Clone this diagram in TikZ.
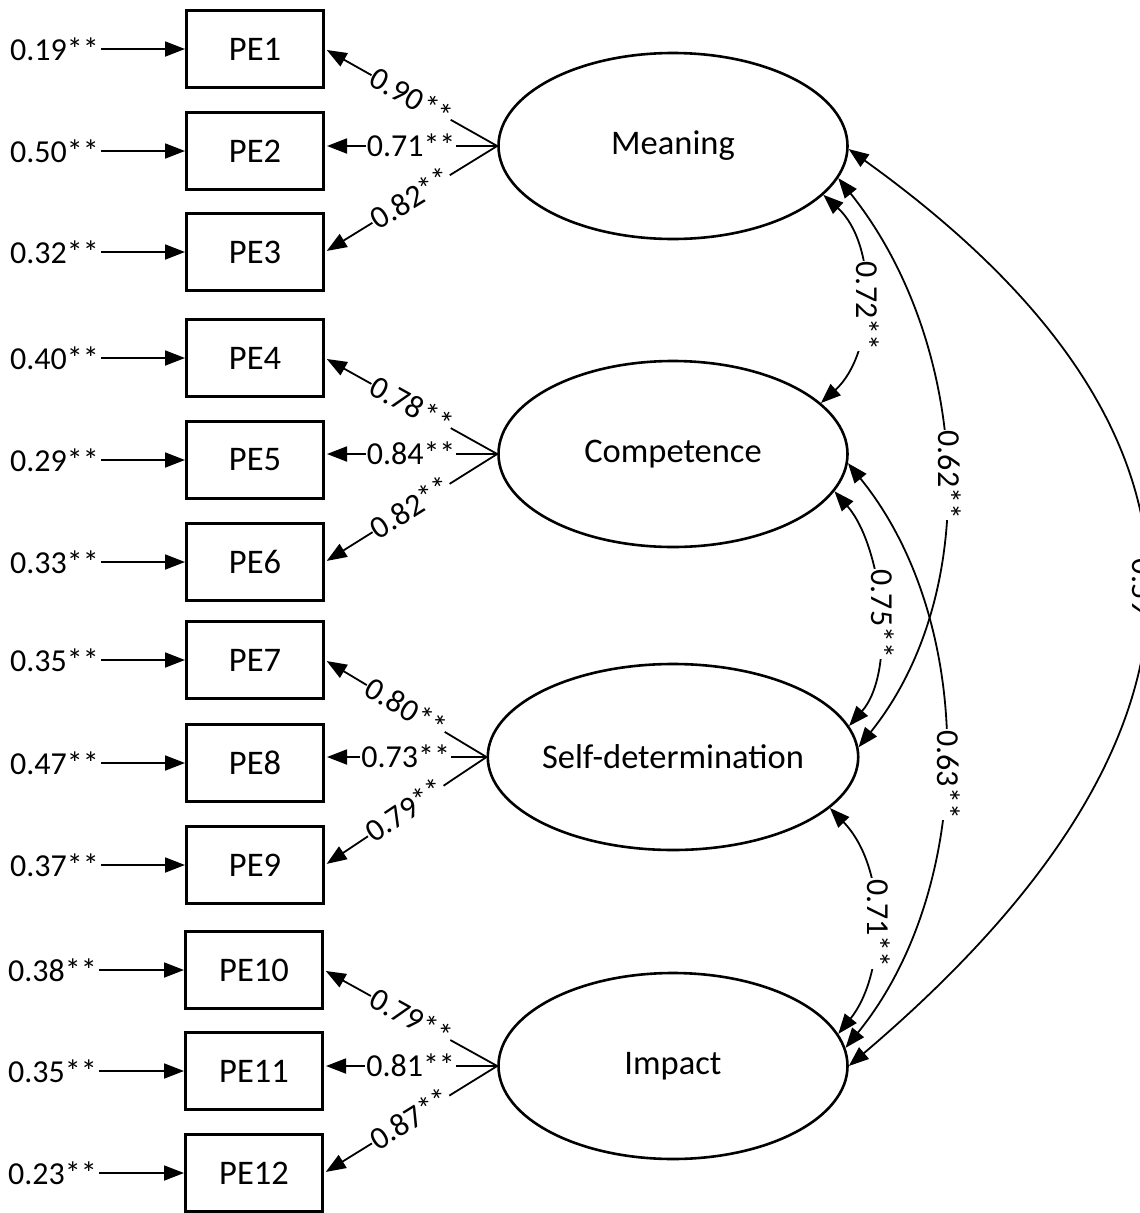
\documentclass[tikz,border=0pt]{standalone}
\usepackage{fontspec}
\setmainfont{Carlito}
\usetikzlibrary{arrows.meta,shapes.geometric}

\begin{document}
\begin{tikzpicture}[x=1pt, y=-1pt,
  font=\fontsize{34.5}{41}\selectfont,
  item/.style={draw, line width=2.6pt, minimum width=137.4pt, minimum height=77.4pt, inner sep=0pt},
  latent/.style={draw, ellipse, line width=2.6pt, minimum width=349pt, minimum height=186pt, inner sep=0pt},
  num/.style={font=\fontsize{32}{38}\selectfont},
  err/.style={num, anchor=east, inner sep=2pt},
  conn/.style={line width=1.8pt, -{Triangle[length=20pt, width=15pt]}},
  load/.style={conn, shorten >=2pt},
  cov/.style={line width=1.8pt, {Triangle[length=20pt, width=15pt]}-{Triangle[length=20pt, width=15pt]}},
  % coefficient on a straight path: digits centred on the line
  coef/.style={num, fill=white, inner sep=1pt, text height=21pt, text depth=1pt},
  % coefficient on a curved path, read from top to bottom
  rcoef/.style={num, fill=white, inner sep=1pt, text height=21pt, text depth=8pt, rotate=-90},
]
\fill[white] (0,0) rectangle (1140,1213);
\useasboundingbox (0,0) rectangle (1140,1213);

% observed items
\node[item] (PE1)  at (255,49)   {PE1};
\node[item] (PE2)  at (255,151)  {PE2};
\node[item] (PE3)  at (255,252)  {PE3};
\node[item] (PE4)  at (255,358)  {PE4};
\node[item] (PE5)  at (255,460)  {PE5};
\node[item] (PE6)  at (255,562)  {PE6};
\node[item] (PE7)  at (255,660)  {PE7};
\node[item] (PE8)  at (255,763)  {PE8};
\node[item] (PE9)  at (255,865)  {PE9};
\node[item] (PE10) at (254,970)  {PE10};
\node[item] (PE11) at (254,1071) {PE11};
\node[item] (PE12) at (254,1173) {PE12};

% error variances
\node[err] (e1)  at (101,49)   {0.19**};
\node[err] (e2)  at (101,151)  {0.50**};
\node[err] (e3)  at (101,252)  {0.32**};
\node[err] (e4)  at (101,358)  {0.40**};
\node[err] (e5)  at (101,460)  {0.29**};
\node[err] (e6)  at (101,562)  {0.33**};
\node[err] (e7)  at (101,660)  {0.35**};
\node[err] (e8)  at (101,763)  {0.47**};
\node[err] (e9)  at (101,865)  {0.37**};
\node[err] (e10) at (99,970)   {0.38**};
\node[err] (e11) at (99,1071)  {0.35**};
\node[err] (e12) at (99,1173)  {0.23**};
\foreach \i in {1,...,12} \draw[conn] (e\i) -- (PE\i);

% latent factors
\node[latent] (M) at (673,146)  {Meaning};
\node[latent] (C) at (673,454)  {Competence};
\node[latent] (S) at (673,757)  {Self-determination};
\node[latent] (I) at (673,1066) {Impact};

% factor loadings
\draw[load] (M.west) -- (PE1.east) node[coef, sloped, pos=0.5] {0.90**};
\draw[load] (M.west) -- (M.west -| PE2.east) node[coef, pos=0.5] {0.71**};
\draw[load] (M.west) -- (PE3.east) node[coef, sloped, pos=0.5] {0.82**};

\draw[load] (C.west) -- (PE4.east) node[coef, sloped, pos=0.5] {0.78**};
\draw[load] (C.west) -- (C.west -| PE5.east) node[coef, pos=0.5] {0.84**};
\draw[load] (C.west) -- (PE6.east) node[coef, sloped, pos=0.5] {0.82**};

\draw[load] (S.west) -- (PE7.east) node[coef, sloped, pos=0.5] {0.80**};
\draw[load] (S.west) -- (S.west -| PE8.east) node[coef, pos=0.5] {0.73**};
\draw[load] (S.west) -- (PE9.east) node[coef, sloped, pos=0.5] {0.79**};

\draw[load] (I.west) -- (PE10.east) node[coef, sloped, pos=0.5] {0.79**};
\draw[load] (I.west) -- (I.west -| PE11.east) node[coef, pos=0.5] {0.81**};
\draw[load] (I.west) -- (PE12.east) node[coef, sloped, pos=0.5] {0.87**};

% factor correlations
\draw[cov] (M.-18) .. controls +(55,50) and +(55,-50) .. (C.19)
  node[rcoef, pos=0.53] {0.72**};
\draw[cov] (C.-13.6) .. controls +(48,55) and +(48,-55) .. (S.10.8)
  node[rcoef, pos=0.52] {0.75**};
\draw[cov] (S.-18) .. controls +(58,60) and +(48,-60) .. (I.11.7)
  node[rcoef, pos=0.51] {0.71**};
\draw[cov] (M.-11) .. controls +(128,160) and +(128,-160) .. (S.3.2)
  node[rcoef, pos=0.52] {0.62**};
\draw[cov] (C.-3) .. controls +(130,160) and +(130,-160) .. (I.6.3)
  node[rcoef, pos=0.53] {0.63**};
\draw[cov] (M.-1) .. controls +(390,280) and +(400,-340) .. (I.east)
  node[rcoef, pos=0.52, text height=25pt, text depth=0pt] {0.59**};
\end{tikzpicture}
\end{document}
